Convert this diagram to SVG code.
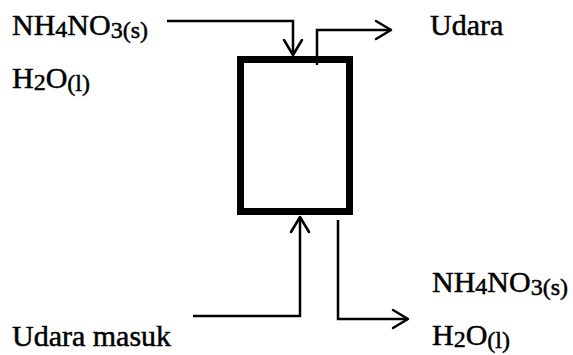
<svg xmlns="http://www.w3.org/2000/svg" width="573" height="355" viewBox="0 0 573 355">
<style>
  .t { font-family: "Liberation Serif", "Times New Roman", serif; font-size: 30px; fill: #000; stroke: #000; stroke-width: 0.5; }
  .s { font-size: 24px; }
  .c { fill: none; stroke: #000; stroke-width: 2.5; stroke-linejoin: miter; }
  .box { fill: #fff; stroke: #000; stroke-width: 7; }
</style>
<defs>
  <marker id="ah" markerUnits="userSpaceOnUse" markerWidth="30" markerHeight="30" viewBox="-20 -15 30 30" refX="0" refY="0" orient="auto">
    <path d="M-15,-9 L0,0 L-15,9" fill="none" stroke="#000" stroke-width="2.5" stroke-linejoin="round" stroke-linecap="round"/>
  </marker>
</defs>
<g id="reactor">
  <rect class="box" x="240.5" y="59.5" width="109" height="152"/>
</g>
<g id="connectors">
  <path class="c" d="M167,21 H293 V55" marker-end="url(#ah)"/>
  <path class="c" d="M317,65 V30 H391" marker-end="url(#ah)"/>
  <path class="c" d="M193,316 H300 V217" marker-end="url(#ah)"/>
  <path class="c" d="M338,220 V319 H408" marker-end="url(#ah)"/>
</g>
<g id="feed">
  <text class="t" x="12" y="35">NH<tspan class="s" dy="2">4</tspan><tspan dy="-2">NO</tspan><tspan class="s" dy="3">3(s)</tspan></text>
  <text class="t" x="12" y="88">H<tspan class="s" dy="2">2</tspan><tspan dy="-2">O</tspan><tspan class="s" dy="3">(l)</tspan></text>
</g>
<g id="air-out">
  <text class="t" x="430" y="35">Udara</text>
</g>
<g id="air-in">
  <text class="t" x="12" y="346">Udara masuk</text>
</g>
<g id="product">
  <text class="t" x="432" y="292">NH<tspan class="s" dy="2">4</tspan><tspan dy="-2">NO</tspan><tspan class="s" dy="3">3(s)</tspan></text>
  <text class="t" x="432" y="345">H<tspan class="s" dy="2">2</tspan><tspan dy="-2">O</tspan><tspan class="s" dy="3">(l)</tspan></text>
</g>
</svg>
